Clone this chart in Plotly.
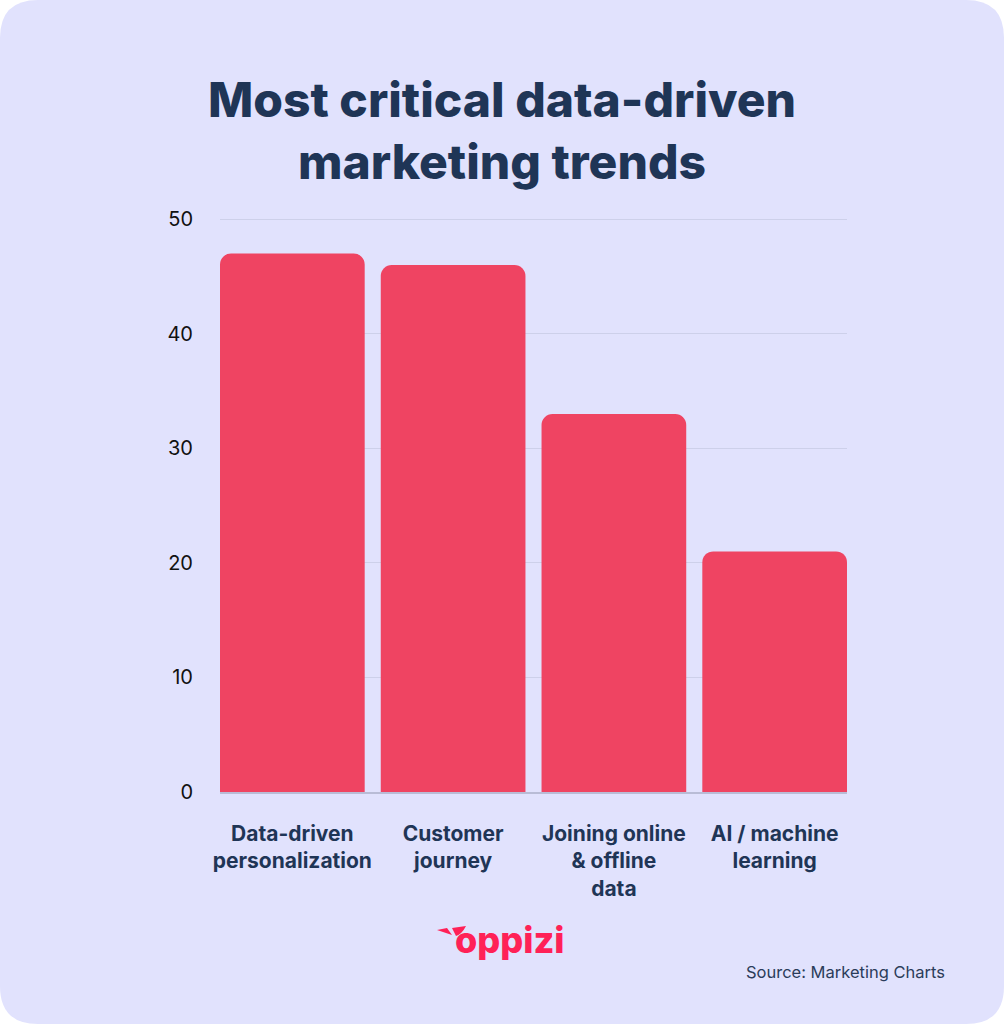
import plotly.graph_objects as go

categories = ["Data-driven<br>personalization", "Customer<br>journey",
              "Joining online<br>& offline<br>data", "AI / machine<br>learning"]
values = [47, 46, 33, 21]
y_ticks = [0, 10, 20, 30, 40, 50]

W, H = 1004, 1024
L, R, T, B = 220, 157, 218, 232
pw, ph = W - L - R, H - T - B


def px(x):
    return (x - L) / pw


def py(y):
    return (H - B - y) / ph


# rounded background card
rad = 38
pts = [
    f"M {px(rad)},{py(0)}",
    f"L {px(W - rad)},{py(0)}",
    f"Q {px(W)},{py(0)} {px(W)},{py(rad)}",
    f"L {px(W)},{py(H - rad)}",
    f"Q {px(W)},{py(H)} {px(W - rad)},{py(H)}",
    f"L {px(rad)},{py(H)}",
    f"Q {px(0)},{py(H)} {px(0)},{py(H - rad)}",
    f"L {px(0)},{py(rad)}",
    f"Q {px(0)},{py(0)} {px(rad)},{py(0)} Z",
]
card = " ".join(pts)

# little bird mark of the logo
bird = (f"M {px(437)},{py(930)} L {px(447)},{py(928)} L {px(452)},{py(935)} Z "
        f"M {px(452)},{py(928)} L {px(466)},{py(926)} "
        f"Q {px(462)},{py(934)} {px(456)},{py(936)} Z")

fig = go.Figure()
fig.add_trace(go.Bar(
    x=categories,
    y=values,
    marker=dict(color="#EF4462", cornerradius=11, line=dict(width=0)),
    hoverinfo="skip",
))

fig.update_layout(
    width=W, height=H,
    margin=dict(l=L, r=R, t=T, b=B),
    paper_bgcolor="white",
    plot_bgcolor="rgba(0,0,0,0)",
    bargap=0.1,
    showlegend=False,
    font=dict(family="Inter", color="#1F3556"),
    title=dict(
        text="Most critical data-driven<br>marketing trends",
        x=0.5, xref="container", xanchor="center",
        y=1 - 117 / H, yref="container", yanchor="middle",
        font=dict(family="Inter", size=48, color="#1F3556", weight=800),
    ),
    shapes=[
        dict(type="path", path=card, xref="paper", yref="paper",
             fillcolor="#E1E2FD", line=dict(width=0), layer="below"),
        dict(type="path", path=bird, xref="paper", yref="paper",
             fillcolor="#FF2157", line=dict(width=0)),
    ],
    annotations=[
        dict(text="oppizi", x=px(510), y=py(940), xref="paper", yref="paper",
             xanchor="center", yanchor="middle", showarrow=False,
             font=dict(family="Inter", size=36, color="#FF2157", weight=800)),
        dict(text="Source: Marketing Charts", x=px(947), y=py(972),
             xref="paper", yref="paper", xanchor="right", yanchor="middle",
             showarrow=False,
             font=dict(family="Inter", size=16.5, color="#2B3C5A")),
    ],
)

fig.update_xaxes(
    showgrid=False, showline=True, linecolor="#B9BCD6", linewidth=1.5,
    ticks="", range=[-0.45, 3.45],
    tickfont=dict(family="Inter", size=21, color="#1F3556", weight=700),
    ticklabelstandoff=22,
)
fig.update_yaxes(
    range=[0, 50.1], tickvals=y_ticks, showgrid=True, gridcolor="#CDD0EA",
    gridwidth=1, zeroline=False, showline=False, ticks="",
    tickfont=dict(family="Inter", size=20, color="#111111"),
    ticklabelstandoff=26,
)

fig.write_html("out.html", config=dict(displayModeBar=False),
               post_script="document.body.style.margin='0';")
